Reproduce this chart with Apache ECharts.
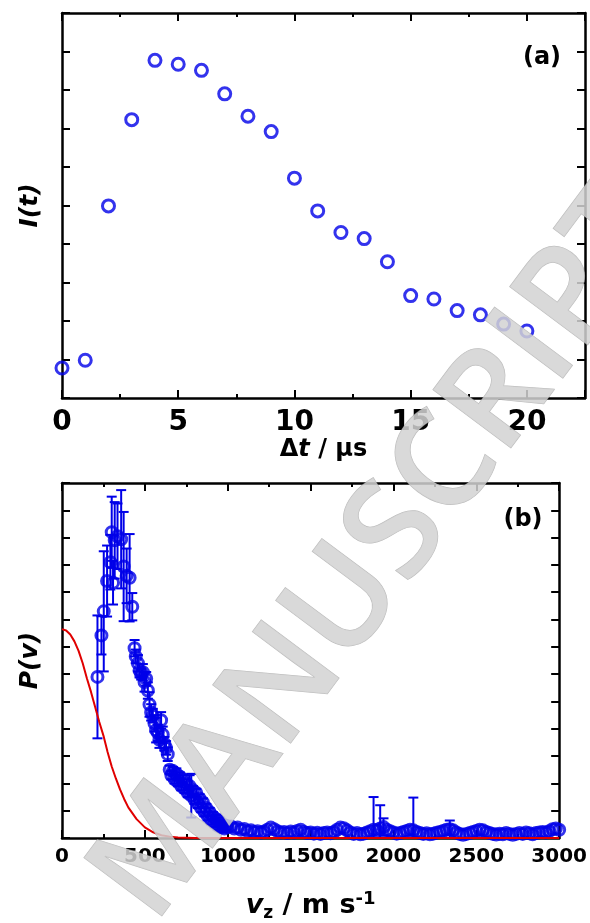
<!DOCTYPE html>
<html lang="en">
<head>
<meta charset="utf-8">
<title>I(t) and P(v)</title>
<style>
html, body { margin: 0; padding: 0; background: #fff; }
#chart { width: 590px; height: 923px; }
</style>
</head>
<body>
<div id="chart"></div>
<script src="https://cdn.jsdelivr.net/npm/echarts@6/dist/echarts.min.js"></script>
<script>
// panel (a): signal vs delay
var delayT = [0, 1, 2, 3, 4, 5, 6, 7, 8, 9, 10, 11, 12, 13, 14, 15, 16, 17, 18, 19, 20];
var signalI = [0.78, 0.98, 4.99, 7.23, 8.77, 8.67, 8.51, 7.90, 7.32, 6.92, 5.71, 4.86, 4.30, 4.14, 3.54, 2.66, 2.57, 2.27, 2.16, 1.92, 1.74];

// panel (b): velocity distribution, [v, P, err]
var peakPts = [
  [214, 5.90, 2.25], [238, 7.42, 0.70], [252, 8.30, 2.20], [272, 9.41, 1.30], [292, 10.10, 1.00],
  [300, 11.20, 1.30], [308, 9.35, 0.80], [318, 10.90, 1.40], [335, 11.05, 1.20], [357, 10.94, 1.80],
  [372, 9.94, 2.00], [390, 9.60, 1.00], [408, 9.53, 1.60], [424, 8.47, 0.50]
];
var fallPts = [
  [438, 6.95, 0.30], [445, 6.65, 0.25], [458, 6.40, 0.30], [468, 6.13, 0.25], [478, 6.00, 0.20],
  [488, 6.07, 0.30], [498, 5.71, 0.35], [508, 5.83, 0.25], [518, 5.40, 0.30], [528, 4.89, 0.45],
  [538, 4.60, 0.30], [548, 4.48, 0.25], [558, 4.20, 0.30], [568, 3.95, 0.45], [578, 3.85, 0.30],
  [588, 3.60, 0.30], [598, 4.31, 0.30], [608, 3.78, 0.30], [618, 3.45, 0.25], [628, 3.30, 0.25],
  [638, 3.07, 0.25]
];
var bandPts = [
  [650, 2.50, 0.15], [660, 2.30, 0.15], [670, 2.45, 0.15], [680, 2.15, 0.15], [690, 2.35, 0.20],
  [700, 2.05, 0.15], [710, 2.25, 0.15], [720, 1.90, 0.15], [730, 2.15, 0.15], [740, 1.80, 0.15],
  [750, 2.00, 0.15], [760, 1.65, 0.15], [770, 1.90, 0.40], [780, 1.55, 0.80], [790, 1.75, 0.15],
  [800, 1.40, 0.15], [810, 1.65, 0.15], [820, 1.25, 0.15], [830, 1.45, 0.15], [840, 1.10, 0.15],
  [850, 1.30, 0.15], [860, 0.95, 0.15], [870, 1.10, 0.15], [880, 0.80, 0.15], [890, 0.95, 0.15],
  [900, 0.65, 0.15], [910, 0.80, 0.15], [920, 0.55, 0.15], [930, 0.70, 0.15], [940, 0.45, 0.15],
  [950, 0.60, 0.15], [960, 0.40, 0.15], [970, 0.50, 0.15], [980, 0.35, 0.15], [990, 0.45, 0.15],
  [1000, 0.40, 0.15]
];
var tailV = [1020, 1040, 1060, 1080, 1100, 1120, 1140, 1160, 1180, 1200, 1220, 1240, 1260, 1280, 1300,
  1320, 1340, 1360, 1380, 1400, 1420, 1440, 1460, 1480, 1500, 1520, 1540, 1560, 1580, 1600,
  1620, 1640, 1660, 1680, 1700, 1720, 1740, 1760, 1780, 1800, 1820, 1840, 1860, 1880, 1900,
  1920, 1940, 1960, 1980, 2000, 2020, 2040, 2060, 2080, 2100, 2120, 2140, 2160, 2180, 2200,
  2220, 2240, 2260, 2280, 2300, 2320, 2340, 2360, 2380, 2400, 2420, 2440, 2460, 2480, 2500,
  2520, 2540, 2560, 2580, 2600, 2620, 2640, 2660, 2680, 2700, 2720, 2740, 2760, 2780, 2800,
  2820, 2840, 2860, 2880, 2900, 2920, 2940, 2960, 2980, 3000];
var tailP = [0.42, 0.35, 0.38, 0.30, 0.33, 0.25, 0.28, 0.22, 0.25, 0.20, 0.24, 0.30, 0.38, 0.32, 0.25,
  0.20, 0.22, 0.18, 0.24, 0.20, 0.26, 0.30, 0.22, 0.18, 0.20, 0.16, 0.19, 0.15, 0.18, 0.20,
  0.17, 0.22, 0.30, 0.38, 0.36, 0.28, 0.20, 0.15, 0.18, 0.14, 0.16, 0.20, 0.25, 0.30, 0.28,
  0.35, 0.40, 0.30, 0.25, 0.20, 0.16, 0.18, 0.22, 0.26, 0.30, 0.28, 0.22, 0.18, 0.15, 0.17,
  0.14, 0.16, 0.19, 0.22, 0.26, 0.30, 0.32, 0.28, 0.20, 0.15, 0.12, 0.15, 0.18, 0.22, 0.26,
  0.30, 0.28, 0.22, 0.18, 0.15, 0.13, 0.16, 0.14, 0.18, 0.15, 0.12, 0.15, 0.18, 0.15, 0.20,
  0.17, 0.14, 0.18, 0.20, 0.22, 0.20, 0.25, 0.32, 0.35, 0.30];
// the few tall error bars in the tail: [v, err]
var tailBars = [[1880, 1.20], [1920, 0.85], [1940, 0.32], [2120, 1.20], [2340, 0.32]];

// red model curve
var modelV = [0, 25, 50, 75, 100, 125, 150, 175, 200, 225, 250, 275, 300, 325, 350, 375, 400, 450, 500, 550, 600, 650, 700, 800, 1000, 1500, 2000, 2500, 3000];
var modelP = [7.65, 7.60, 7.45, 7.20, 6.85, 6.40, 5.85, 5.35, 4.80, 4.25, 3.75, 3.15, 2.62, 2.18, 1.78, 1.43, 1.12, 0.69, 0.39, 0.21, 0.10, 0.05, 0.02, 0, 0, 0, 0, 0, 0];

var BLUE = '#0000e8';
var RED = '#e00000';
var FONT = 'DejaVu Sans';

var ptsB = [], barsB = [];
peakPts.concat(fallPts, bandPts).forEach(function (p) {
  ptsB.push([p[0], p[1]]);
  barsB.push([p[0], p[1] - p[2], p[1] + p[2]]);
});
tailV.forEach(function (v, i) { ptsB.push([v, tailP[i]]); });
tailBars.forEach(function (b) {
  var p = tailP[tailV.indexOf(b[0])];
  barsB.push([b[0], p - b[1], p + b[1]]);
});

function errBar(params, api) {
  var lo = api.coord([api.value(0), api.value(1)]);
  var hi = api.coord([api.value(0), api.value(2)]);
  var w = 5;
  var st = { stroke: BLUE, lineWidth: 2 };
  return {
    type: 'group',
    children: [
      { type: 'line', shape: { x1: lo[0], y1: lo[1], x2: hi[0], y2: hi[1] }, style: st },
      { type: 'line', shape: { x1: hi[0] - w, y1: hi[1], x2: hi[0] + w, y2: hi[1] }, style: st },
      { type: 'line', shape: { x1: lo[0] - w, y1: lo[1], x2: lo[0] + w, y2: lo[1] }, style: st }
    ]
  };
}

var lineStyle = { color: '#000', width: 2.5 };
function xAx(grid, pos, max, step, extra) {
  var ax = {
    type: 'value', gridIndex: grid, position: pos, min: 0, max: max, interval: step,
    axisLine: { show: true, onZero: false, lineStyle: lineStyle },
    axisTick: { show: true, inside: true, length: 8, lineStyle: { color: '#000', width: 2 } },
    minorTick: { show: true, splitNumber: 2, length: 4, lineStyle: { color: '#000', width: 2 } },
    splitLine: { show: false },
    axisLabel: { show: false }
  };
  return Object.assign(ax, extra || {});
}
function yAx(grid, pos, max, extra) {
  var ax = {
    type: 'value', gridIndex: grid, position: pos, min: 0, max: max, interval: 1,
    axisLine: { show: true, onZero: false, lineStyle: lineStyle },
    axisTick: { show: true, inside: true, length: 8, lineStyle: { color: '#000', width: 2 } },
    splitLine: { show: false },
    axisLabel: { show: false }
  };
  return Object.assign(ax, extra || {});
}

var chart = echarts.init(document.getElementById('chart'));
chart.setOption({
  animation: false,
  backgroundColor: '#fff',
  grid: [
    { left: 62, top: 13, width: 523, height: 385 },
    { left: 62, top: 483, width: 500, height: 369 }
  ],
  xAxis: [
    xAx(0, 'bottom', 22.5, 5, {
      axisLabel: {
        show: true, margin: 11, color: '#000', fontFamily: FONT, fontWeight: 'bold', fontSize: 28,
        formatter: function (v) { return v % 5 === 0 ? String(v) : ''; }
      },
      name: '{n|Δ}{i|t}{n| / μs}', nameLocation: 'middle', nameGap: 28,
      nameTextStyle: {
        rich: {
          n: { fontFamily: FONT, fontWeight: 'bold', fontSize: 24, color: '#000' },
          i: { fontFamily: FONT, fontWeight: 'bold', fontStyle: 'italic', fontSize: 24, color: '#000' }
        }
      }
    }),
    xAx(0, 'top', 22.5, 5),
    xAx(1, 'bottom', 3000, 500, {
      axisLabel: {
        show: true, margin: 9, color: '#000', fontFamily: FONT, fontWeight: 'bold', fontSize: 20,
        formatter: function (v) { return String(v); }
      },
      name: '{i|v}{sub|z}{n| / m s}{sup|-1}', nameLocation: 'middle', nameGap: 52,
      nameTextStyle: {
        rich: {
          i: { fontFamily: FONT, fontWeight: 'bold', fontStyle: 'italic', fontSize: 27, lineHeight: 32, color: '#000' },
          sub: { fontFamily: FONT, fontWeight: 'bold', fontSize: 17, lineHeight: 17, verticalAlign: 'bottom', color: '#000' },
          n: { fontFamily: FONT, fontWeight: 'bold', fontSize: 27, lineHeight: 32, color: '#000' },
          sup: { fontFamily: FONT, fontWeight: 'bold', fontSize: 18, lineHeight: 18, verticalAlign: 'top', color: '#000' }
        }
      }
    }),
    xAx(1, 'top', 3000, 500)
  ],
  yAxis: [
    yAx(0, 'left', 10, {
      name: 'I(t)', nameLocation: 'middle', nameGap: 19,
      nameTextStyle: { fontFamily: FONT, fontWeight: 'bold', fontStyle: 'italic', fontSize: 25, color: '#000' }
    }),
    yAx(0, 'right', 10),
    yAx(1, 'left', 13, {
      name: 'P(v)', nameLocation: 'middle', nameGap: 19,
      nameTextStyle: { fontFamily: FONT, fontWeight: 'bold', fontStyle: 'italic', fontSize: 25, color: '#000' }
    }),
    yAx(1, 'right', 13)
  ],
  graphic: [
    { type: 'text', x: 542, y: 58, style: { text: '(a)', font: 'bold 24px "DejaVu Sans"', fill: '#000', textAlign: 'center', textVerticalAlign: 'middle' } },
    { type: 'text', x: 523, y: 520, style: { text: '(b)', font: 'bold 24px "DejaVu Sans"', fill: '#000', textAlign: 'center', textVerticalAlign: 'middle' } },
    {
      type: 'text', x: 384, y: 553, rotation: 0.93, z: 100,
      style: {
        text: 'MANUSCRIPT', font: '600 136px "Open Sans"',
        fill: 'rgba(210,210,210,0.85)', stroke: 'rgba(160,160,160,0.7)', lineWidth: 1,
        textAlign: 'center', textVerticalAlign: 'middle',
        shadowBlur: 6, shadowColor: 'rgba(0,0,0,0.25)', shadowOffsetX: 2, shadowOffsetY: 2
      }
    }
  ],
  series: [
    {
      type: 'scatter', xAxisIndex: 0, yAxisIndex: 0,
      data: delayT.map(function (t, i) { return [t, signalI[i]]; }),
      symbol: 'circle', symbolSize: 12,
      itemStyle: { color: 'rgba(0,0,0,0)', borderColor: BLUE, borderWidth: 3 }
    },
    {
      type: 'line', xAxisIndex: 2, yAxisIndex: 2,
      data: modelV.map(function (v, i) { return [v, modelP[i]]; }),
      showSymbol: false, smooth: false,
      lineStyle: { color: RED, width: 2 }
    },
    {
      type: 'custom', xAxisIndex: 2, yAxisIndex: 2, clip: true,
      renderItem: errBar, data: barsB,
      encode: { x: 0, y: [1, 2] }
    },
    {
      type: 'scatter', xAxisIndex: 2, yAxisIndex: 2,
      data: ptsB, symbol: 'circle', symbolSize: 11,
      itemStyle: { color: 'rgba(0,0,0,0)', borderColor: BLUE, borderWidth: 3 }
    }
  ]
});
</script>
</body>
</html>
